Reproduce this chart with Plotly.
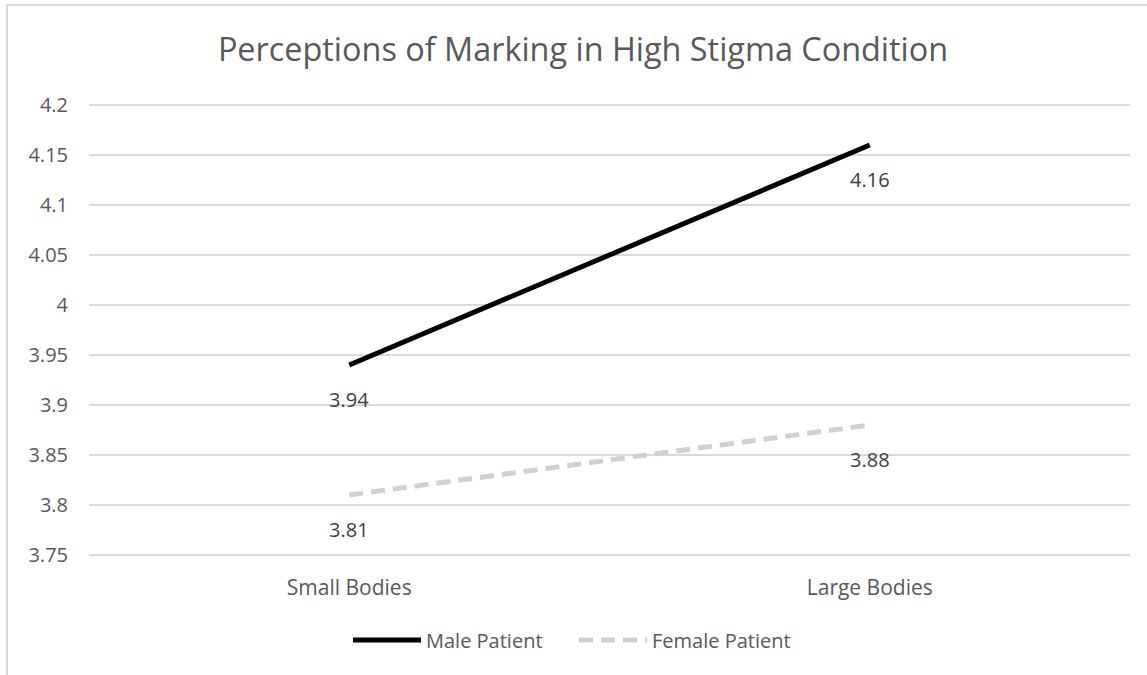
import plotly.graph_objects as go

categories = ["Small Bodies", "Large Bodies"]
male_values = [3.94, 4.16]
female_values = [3.81, 3.88]
y_ticks = [3.75, 3.8, 3.85, 3.9, 3.95, 4.0, 4.05, 4.1, 4.15, 4.2]
y_tick_labels = ["3.75", "3.8", "3.85", "3.9", "3.95", "4", "4.05", "4.1", "4.15", "4.2"]

FONT = "Open Sans"
fig = go.Figure()
fig.add_trace(go.Scatter(x=categories, y=male_values, mode="lines", name="Male Patient",
                         line=dict(color="#000000", width=5)))
fig.add_trace(go.Scatter(x=categories, y=female_values, mode="lines", name="Female Patient",
                         line=dict(color="#d0d0d0", width=5, dash="14px,8px")))

for vals in (male_values, female_values):
    for c, v in zip(categories, vals):
        fig.add_annotation(x=c, y=v, text=f"{v:.2f}", showarrow=False, yshift=-34,
                           font=dict(family=FONT, size=20, color="#404040"))

# plot area: x 89..1130, y 103..557 (range 3.748..4.202)
PW, PH = 1041, 454
fig.add_shape(type="line", xref="paper", yref="paper", x0=(7 - 89) / PW, x1=(7 - 89) / PW,
              y0=(557 - 700) / PH, y1=1 + (103 - 5) / PH, line=dict(color="#d9d9d9", width=2))
fig.add_shape(type="line", xref="paper", yref="paper", x0=(7 - 89) / PW, x1=(1160 - 89) / PW,
              y0=1 + (103 - 5) / PH, y1=1 + (103 - 5) / PH, line=dict(color="#d9d9d9", width=2))

fig.update_layout(
    width=1147, height=675,
    margin=dict(l=89, r=17, t=103, b=118),
    paper_bgcolor="white", plot_bgcolor="white",
    title=dict(text="Perceptions of Marking in High Stigma Condition", x=583 / 1147, xref="container",
               xanchor="center", y=1 - 50 / 675, yanchor="middle", yref="container",
               font=dict(family=FONT, size=32.4, color="#595959")),
    showlegend=True,
    legend=dict(orientation="h", x=(348 - 89) / PW, xanchor="left", y=(557 - 640) / PH,
                yanchor="middle", font=dict(family=FONT, size=20, color="#595959"),
                itemwidth=68, entrywidth=143, bgcolor="rgba(0,0,0,0)"),
    xaxis=dict(type="category", range=[-0.5, 1.5], showgrid=False, showline=False, zeroline=False,
               ticks="", tickfont=dict(family=FONT, size=21, color="#595959"), ticklabelstandoff=16),
    yaxis=dict(range=[3.748, 4.202], tickvals=y_ticks, ticktext=y_tick_labels, showgrid=True,
               gridcolor="#d9d9d9", gridwidth=1.5, zeroline=False, showline=False, ticks="",
               tickfont=dict(family=FONT, size=20, color="#595959"), ticklabelstandoff=20),
)

fig.write_html("out.html", post_script="document.body.style.margin='0';",
               config={"displayModeBar": False})
